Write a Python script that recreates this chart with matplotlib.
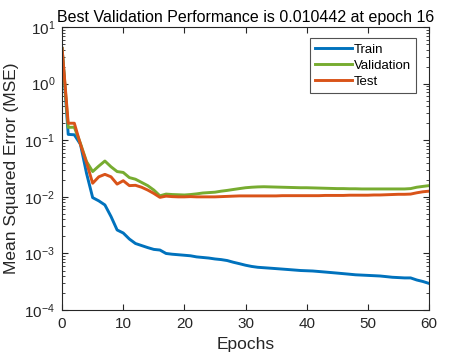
import matplotlib
matplotlib.use("Agg")
import matplotlib.pyplot as plt
from matplotlib.ticker import LogLocator, FixedLocator

plt.rcParams['font.family'] = ['Liberation Sans', 'DejaVu Sans']

epochs = list(range(0, 61))

train = [4.2, 0.127, 0.125, 0.085, 0.026, 0.0097, 0.0085, 0.0072, 0.0045, 0.0026,
         0.0023, 0.0018, 0.0015, 0.00138, 0.00127, 0.00118, 0.00115, 0.00100, 0.00097, 0.00095,
         0.00093, 0.00091, 0.00087, 0.00085, 0.00083, 0.00080, 0.00078, 0.00075, 0.00070, 0.00066,
         0.00062, 0.00059, 0.00057, 0.00056, 0.00055, 0.00054, 0.00053, 0.00052, 0.00051, 0.00050,
         0.000495, 0.00049, 0.00048, 0.00047, 0.00046, 0.00045, 0.00044, 0.00043, 0.00042, 0.000415,
         0.00041, 0.000405, 0.0004, 0.00039, 0.00038, 0.000375, 0.00037, 0.00037, 0.00034, 0.00032,
         0.000296]

validation = [4.2, 0.169, 0.17, 0.088, 0.042, 0.028, 0.035, 0.043, 0.034, 0.028,
              0.027, 0.0219, 0.0205, 0.018, 0.0158, 0.0132, 0.010442, 0.0112, 0.0110, 0.0109,
              0.0108, 0.0110, 0.0113, 0.0117, 0.0119, 0.0121, 0.0126, 0.0130, 0.0135, 0.0140,
              0.0145, 0.0148, 0.0150, 0.0151, 0.0150, 0.0149, 0.0148, 0.0147, 0.0146, 0.0145,
              0.0145, 0.0144, 0.0143, 0.0142, 0.0141, 0.0140, 0.0140, 0.0139, 0.0139, 0.0138,
              0.0138, 0.0138, 0.0138, 0.0138, 0.0138, 0.0138, 0.0138, 0.0140, 0.0148, 0.0153,
              0.0158]

test = [4.2, 0.2, 0.2, 0.085, 0.040, 0.0174, 0.0226, 0.025, 0.0226, 0.0168,
        0.0193, 0.0158, 0.016, 0.0148, 0.0132, 0.0115, 0.0098, 0.0103, 0.0101, 0.0100,
        0.0100, 0.0101, 0.0100, 0.0100, 0.0100, 0.0100, 0.0101, 0.0102, 0.0103, 0.0104,
        0.0104, 0.0104, 0.0104, 0.0104, 0.0104, 0.0104, 0.0105, 0.0105, 0.0105, 0.0105,
        0.0105, 0.0105, 0.0105, 0.0106, 0.0106, 0.0106, 0.0106, 0.0107, 0.0107, 0.0107,
        0.0107, 0.0108, 0.0108, 0.0109, 0.0110, 0.0111, 0.0111, 0.0112, 0.0118, 0.0123,
        0.0126]

title_text = "Best Validation Performance is 0.010442 at epoch 16"

fig = plt.figure(figsize=(4.74, 3.56), dpi=100)
ax = fig.add_axes([0.131, 0.129, 0.774, 0.795])

ax.plot(epochs, train, color='#0072BD', lw=2.1, label='Train')
ax.plot(epochs, validation, color='#77AC30', lw=2.1, label='Validation')
ax.plot(epochs, test, color='#D95319', lw=2.1, label='Test')

ax.set_yscale('log')
ax.set_xlim(0, 60)
ax.set_ylim(1e-4, 1e1)
ax.xaxis.set_major_locator(FixedLocator([0, 10, 20, 30, 40, 50, 60]))
ax.yaxis.set_major_locator(LogLocator(base=10, numticks=10))
ax.yaxis.set_minor_locator(LogLocator(base=10, subs=range(2, 10), numticks=100))

ax.tick_params(which='both', direction='in', top=True, right=True, colors='#262626',
               labelsize=11, labelcolor='#262626', pad=5)
ax.tick_params(which='major', length=4, width=0.8)
ax.tick_params(which='minor', length=2, width=0.6)
for s in ax.spines.values():
    s.set_color('#262626')
    s.set_linewidth(0.8)

ax.set_xlabel('Epochs', fontsize=12.5, color='#262626', labelpad=4)
ax.set_ylabel('Mean Squared Error (MSE)', fontsize=12.5, color='#262626', labelpad=4)
ax.set_title(title_text, fontsize=11.5, color='black', pad=4)

leg = ax.legend(loc='upper right', bbox_to_anchor=(0.965, 0.961),
                prop={'size': 9.5},
                frameon=True, fancybox=False, edgecolor='#262626', borderpad=0.4,
                handlelength=2.8, handletextpad=0.15, labelspacing=0.3, borderaxespad=0)
leg.get_frame().set_linewidth(0.8)

fig.savefig('out.png', dpi=100)
